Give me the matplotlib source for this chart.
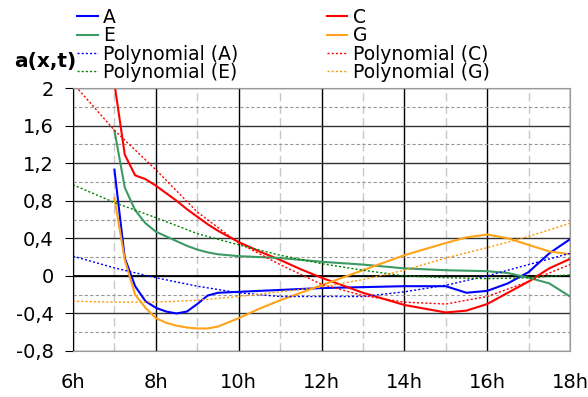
import matplotlib
matplotlib.use("Agg")
import matplotlib.pyplot as plt
from matplotlib.ticker import MultipleLocator, FuncFormatter

# measured series (hours, value)
times = [7, 7.25, 7.5, 7.75, 8, 8.25, 8.5, 8.75, 9, 9.25, 9.5, 10, 10.5,
         11, 11.5, 12, 13, 14, 15, 15.5, 16, 16.5, 17, 17.5, 18]
series_a = [1.13, 0.19, -0.11, -0.27, -0.34, -0.38, -0.40, -0.38, -0.30, -0.21, -0.18, -0.17, -0.16,
            -0.15, -0.14, -0.13, -0.12, -0.11, -0.11, -0.18, -0.16, -0.08, 0.04, 0.24, 0.39]
series_c = [2.05, 1.29, 1.07, 1.03, 0.96, 0.88, 0.80, 0.71, 0.63, 0.55, 0.48, 0.36, 0.26,
            0.17, 0.07, -0.02, -0.18, -0.31, -0.39, -0.37, -0.30, -0.18, -0.06, 0.08, 0.18]
series_e = [1.55, 0.94, 0.70, 0.56, 0.47, 0.42, 0.37, 0.32, 0.28, 0.25, 0.23, 0.21, 0.20,
            0.19, 0.17, 0.15, 0.12, 0.08, 0.06, 0.055, 0.05, 0.03, -0.02, -0.08, -0.22]
series_g = [0.83, 0.17, -0.20, -0.34, -0.45, -0.50, -0.53, -0.55, -0.56, -0.56, -0.54, -0.45, -0.35,
            -0.26, -0.18, -0.10, 0.06, 0.22, 0.35, 0.41, 0.44, 0.40, 0.33, 0.26, 0.23]

# polynomial trendlines read at each hour
trend_times = [6, 7, 8, 9, 10, 11, 12, 13, 14, 15, 16, 17, 18]
trend_a = [0.21, 0.085, -0.02, -0.11, -0.18, -0.22, -0.22, -0.22, -0.17, -0.10, 0.0, 0.12, 0.24]
trend_c = [2.05, 1.55, 1.13, 0.68, 0.35, 0.12, -0.09, -0.21, -0.28, -0.30, -0.22, -0.06, 0.12]
trend_e = [0.97, 0.78, 0.62, 0.45, 0.33, 0.22, 0.13, 0.06, 0.0, -0.02, -0.03, -0.02, 0.01]
trend_g = [-0.27, -0.28, -0.28, -0.26, -0.22, -0.17, -0.12, -0.04, 0.06, 0.19, 0.30, 0.42, 0.56]

plt.rcParams['font.family'] = ['DejaVu Sans']

fig = plt.figure(figsize=(5.88, 3.97), dpi=100)
ax = fig.add_axes([73 / 588, 1 - 351 / 397, 497 / 588, 263 / 397])

ax.set_xlim(6, 18)
ax.set_ylim(-0.8, 2)

# grid
ax.xaxis.set_major_locator(MultipleLocator(2))
ax.xaxis.set_minor_locator(MultipleLocator(1))
ax.yaxis.set_major_locator(MultipleLocator(0.4))
ax.yaxis.set_minor_locator(MultipleLocator(0.2))
ax.grid(which='major', axis='x', color='black', lw=1)
ax.grid(which='minor', axis='x', color='#c8c8c8', lw=1, ls=(0, (6, 3)))
ax.grid(which='major', axis='y', color='#333333', lw=1)
ax.grid(which='minor', axis='y', color='#999999', lw=0.8, ls=(0, (3, 2)))
ax.set_axisbelow(True)
ax.axhline(0, color='black', lw=1.3, zorder=1.5)

for side in ['top', 'right', 'bottom']:
    ax.spines[side].set_color('#999999')
ax.spines['left'].set_color('black')

ax.tick_params(axis='x', which='both', length=0, pad=16, labelsize=14)
ax.tick_params(axis='y', which='major', length=6, pad=8, labelsize=14)
ax.tick_params(axis='y', which='minor', length=0)
ax.xaxis.set_major_formatter(FuncFormatter(lambda v, p: '%dh' % v))
ax.yaxis.set_major_formatter(
    FuncFormatter(lambda v, p: ('%g' % round(v, 1)).replace('.', ',')))

la, = ax.plot(times, series_a, color='#0000ff', lw=1.5)
lc, = ax.plot(times, series_c, color='#ff0000', lw=1.5)
le, = ax.plot(times, series_e, color='#3c9a64', lw=1.5)
lg, = ax.plot(times, series_g, color='#ffa31a', lw=1.5)
ta, = ax.plot(trend_times, trend_a, color='#0000ff', lw=1, ls=(0, (1.5, 1.5)))
tc, = ax.plot(trend_times, trend_c, color='#ff0000', lw=1, ls=(0, (1.5, 1.5)))
te, = ax.plot(trend_times, trend_e, color='#008000', lw=1, ls=(0, (1.5, 1.5)))
tg, = ax.plot(trend_times, trend_g, color='#ff9900', lw=1, ls=(0, (1.5, 1.5)))

handles = [la, le, ta, te, lc, lg, tc, tg]
labels = ['A', 'E', 'Polynomial (A)', 'Polynomial (E)',
          'C', 'G', 'Polynomial (C)', 'Polynomial (G)']
fig.legend(handles, labels, ncol=2, frameon=False, fontsize=13.5,
           loc='upper left', bbox_to_anchor=(77 / 588, 1 - 8 / 397),
           borderpad=0, borderaxespad=0, handlelength=1.1, handletextpad=0.3,
           labelspacing=-0.04, columnspacing=4.7)

fig.text(45 / 588, 1 - 62 / 397, 'a(x,t)', fontsize=14.5, fontweight='bold',
         ha='center', va='center')

fig.savefig('out.png', dpi=100)
